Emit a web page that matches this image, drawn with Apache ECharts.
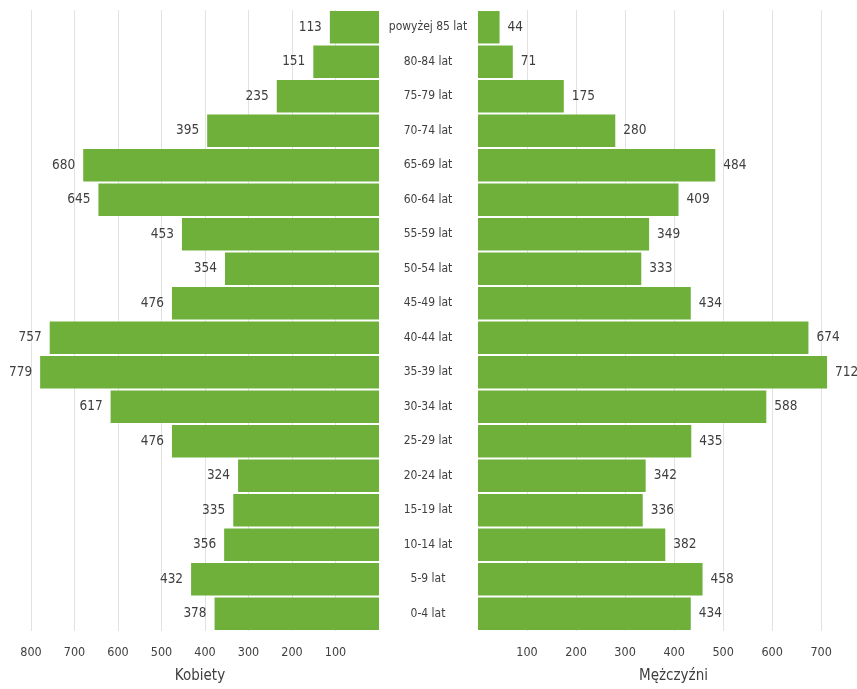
<!DOCTYPE html>
<html>
<head>
<meta charset="utf-8">
<script src="https://cdn.jsdelivr.net/npm/echarts@6/dist/echarts.min.js"></script>
<style>
html,body{margin:0;padding:0;background:#fff;}
#c{width:857px;height:689px;}
</style>
</head>
<body>
<div id="c"></div>
<script>
const categories = ['powyżej 85 lat','80-84 lat','75-79 lat','70-74 lat','65-69 lat','60-64 lat','55-59 lat','50-54 lat','45-49 lat','40-44 lat','35-39 lat','30-34 lat','25-29 lat','20-24 lat','15-19 lat','10-14 lat','5-9 lat','0-4 lat'];
const kobiety = [113,151,235,395,680,645,453,354,476,757,779,617,476,324,335,356,432,378];
const mezczyzni = [44,71,175,280,484,409,349,333,434,674,712,588,435,342,336,382,458,434];

const FONT = "'Liberation Sans Narrow','DejaVu Sans Condensed','Roboto',sans-serif";
const GREEN = '#6fb03b';
const TXT = '#3f3f3f';

const chart = echarts.init(document.getElementById('c'), null, {renderer:'canvas'});
chart.setOption({
  backgroundColor:'#fff',
  animation:false,
  textStyle:{fontFamily:FONT},
  grid:[
    {left:31, right:478, top:10, bottom:57},
    {left:478, right:26, top:10, bottom:57}
  ],
  xAxis:[
    {gridIndex:0, type:'value', inverse:true, min:0, max:800, interval:100,
     name:'Kobiety', nameLocation:'middle', nameGap:38,
     nameTextStyle:{fontFamily:FONT, fontSize:15, color:TXT, padding:[0,10,0,0]},
     axisLine:{show:false}, axisTick:{show:false},
     axisLabel:{fontFamily:FONT, fontSize:12.5, color:TXT, margin:15, showMinLabel:false},
     splitLine:{show:true, showMinLine:false, lineStyle:{color:'#e2e2e2', width:1}}},
    {gridIndex:1, type:'value', min:0, max:720, interval:100,
     name:'Mężczyźni', nameLocation:'middle', nameGap:38,
     nameTextStyle:{fontFamily:FONT, fontSize:15, color:TXT, padding:[0,0,0,38]},
     axisLine:{show:false}, axisTick:{show:false},
     axisLabel:{fontFamily:FONT, fontSize:12.5, color:TXT, margin:15, showMinLabel:false, showMaxLabel:false},
     splitLine:{show:true, showMinLine:false, showMaxLine:false, lineStyle:{color:'#e2e2e2', width:1}}}
  ],
  yAxis:[
    {gridIndex:0, type:'category', data:categories, inverse:true,
     axisLine:{show:false}, axisTick:{show:false}, axisLabel:{show:false}},
    {gridIndex:1, type:'category', data:categories, inverse:true, position:'left',
     axisLine:{show:false}, axisTick:{show:false},
     axisLabel:{fontFamily:FONT, fontSize:12, color:TXT, align:'center', margin:50}}
  ],
  series:[
    {type:'bar', name:'Kobiety', xAxisIndex:0, yAxisIndex:0, data:kobiety,
     barCategoryGap:'6%', itemStyle:{color:GREEN},
     label:{show:true, position:'left', distance:8, fontFamily:FONT, fontSize:13.5, color:TXT}},
    {type:'bar', name:'Mężczyźni', xAxisIndex:1, yAxisIndex:1, data:mezczyzni,
     barCategoryGap:'6%', itemStyle:{color:GREEN},
     label:{show:true, position:'right', distance:8, fontFamily:FONT, fontSize:13.5, color:TXT}}
  ]
});
</script>
</body>
</html>
